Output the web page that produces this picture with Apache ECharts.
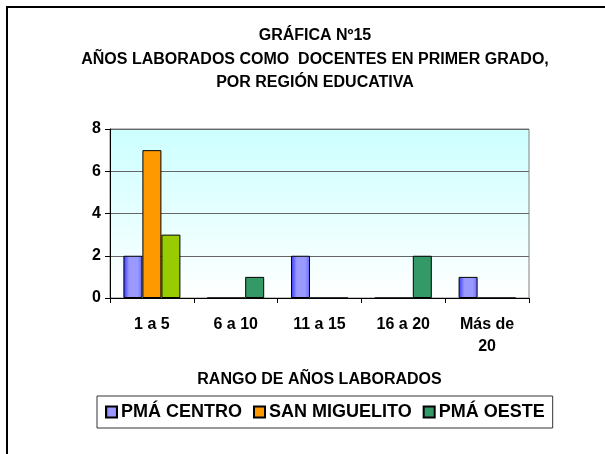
<!DOCTYPE html>
<html>
<head>
<meta charset="utf-8">
<script src="https://cdn.jsdelivr.net/npm/echarts@6/dist/echarts.min.js"></script>
<style>
  html, body { margin: 0; padding: 0; background: #fff; }
  #chart { width: 605px; height: 454px; }
</style>
</head>
<body>
<div id="chart"></div>
<script>
// categorias y valores
var rangos = ['1 a 5', '6 a 10', '11 a 15', '16 a 20', 'Más de\n20'];
var regiones = ['PMÁ CENTRO', 'SAN MIGUELITO', 'PMÁ OESTE'];
var pmaCentro = [2, 0, 2, 0, 1];
var sanMiguelito = [7, 0, 0, 0, 0];
var pmaOeste = [3, 1, 0, 2, 0];
var yTicks = [0, 2, 4, 6, 8];

var font = 'Liberation Sans, Arial, sans-serif';

var chart = echarts.init(document.getElementById('chart'));

var blue = new echarts.graphic.LinearGradient(0, 0, 1, 0, [
    { offset: 0, color: '#3333FF' },
    { offset: 0.3, color: '#9999FF' },
    { offset: 0.75, color: '#9999FF' },
    { offset: 1, color: '#6666FF' }
]);

var option = {
    animation: false,
    backgroundColor: '#fff',
    textStyle: { fontFamily: font },
    graphic: [{
        type: 'rect',
        shape: { x: 7, y: 7, width: 700, height: 600 },
        style: { fill: 'none', stroke: '#000', lineWidth: 2 }
    }],
    title: {
        text: 'GRÁFICA Nº15\nAÑOS LABORADOS COMO  DOCENTES EN PRIMER GRADO,\nPOR REGIÓN EDUCATIVA',
        left: 310,
        top: 19,
        textAlign: 'center',
        textStyle: {
            fontFamily: font,
            fontSize: 16,
            fontWeight: 'bold',
            color: '#000',
            lineHeight: 23.5
        }
    },
    legend: {
        left: 97,
        top: 396,
        padding: [7, 8, 7, 8],
        borderColor: '#333',
        borderWidth: 1,
        icon: 'rect',
        itemWidth: 11,
        itemHeight: 11,
        itemGap: 11,
        textStyle: { fontFamily: font, fontSize: 18, fontWeight: 'bold', color: '#000', padding: [0, 0, 0, -1] },
        data: regiones
    },
    grid: {
        left: 110,
        right: 76,
        top: 129,
        bottom: 156,
        show: true,
        borderColor: '#808080',
        borderWidth: 1,
        backgroundColor: new echarts.graphic.LinearGradient(0, 0, 0, 1, [
            { offset: 0, color: '#CCFFFF' },
            { offset: 1, color: '#FFFFFF' }
        ])
    },
    xAxis: {
        type: 'category',
        data: rangos,
        name: 'RANGO DE AÑOS LABORADOS',
        nameLocation: 'middle',
        nameGap: 74,
        nameTextStyle: { fontFamily: font, fontSize: 16, fontWeight: 'bold', color: '#000' },
        axisLine: { lineStyle: { color: '#000', width: 1 } },
        axisTick: { show: true, length: 5, lineStyle: { color: '#000' } },
        axisLabel: {
            fontFamily: font, fontSize: 16, fontWeight: 'bold', color: '#000',
            margin: 16, lineHeight: 22
        }
    },
    yAxis: {
        type: 'value',
        min: yTicks[0],
        max: yTicks[yTicks.length - 1],
        interval: 2,
        axisLine: { show: true, lineStyle: { color: '#000', width: 1 } },
        axisTick: { show: true, length: 5, lineStyle: { color: '#000' } },
        axisLabel: { fontFamily: font, fontSize: 16, fontWeight: 'bold', color: '#000', margin: 9 },
        splitLine: { lineStyle: { color: '#666', width: 1 } }
    },
    series: [
        {
            name: regiones[0],
            type: 'bar',
            barWidth: 19,
            barGap: '0%',
            data: pmaCentro,
            itemStyle: { color: blue, borderColor: '#000', borderWidth: 1 }
        },
        {
            name: regiones[1],
            type: 'bar',
            barWidth: 19,
            barGap: '0%',
            data: sanMiguelito,
            itemStyle: { color: '#FF9900', borderColor: '#000', borderWidth: 1 }
        },
        {
            name: regiones[2],
            type: 'bar',
            barWidth: 19,
            barGap: '0%',
            data: pmaOeste.map(function (v, i) {
                // el primer grupo se ve verde claro en la original
                return i === 0 ? { value: v, itemStyle: { color: '#99CC00' } } : v;
            }),
            itemStyle: { color: '#339966', borderColor: '#000', borderWidth: 1 }
        }
    ]
};

chart.setOption(option);
</script>
</body>
</html>
